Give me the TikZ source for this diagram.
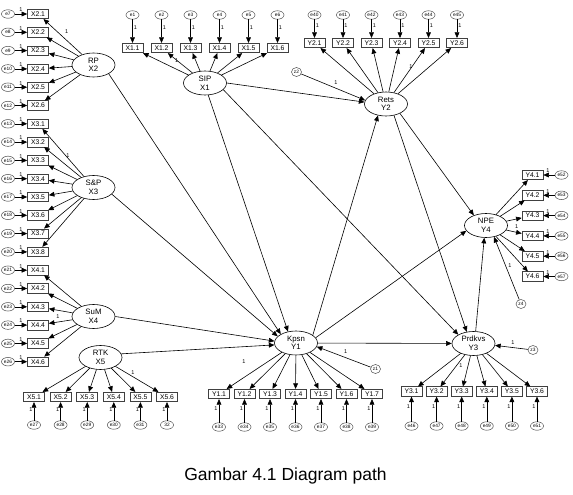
\documentclass[tikz,border=0pt]{standalone}
\usepackage{fontspec}
\setmainfont{Liberation Sans}
\usetikzlibrary{shapes.geometric,arrows.meta}
\begin{document}
\begin{tikzpicture}[x=1pt,y=-1pt,
  obs/.style={draw=black!75,line width=0.6pt,rectangle,minimum width=21pt,minimum height=9.5pt,inner sep=0pt,font=\fontsize{6.8}{7}\selectfont},
  lat/.style={draw,ellipse,line width=0.6pt,minimum width=43pt,minimum height=24pt,inner sep=0pt,align=center,font=\fontsize{7.8}{8.6}\selectfont},
  err/.style={draw=black!70,ellipse,line width=0.5pt,minimum width=13pt,minimum height=8.5pt,inner sep=0pt,font=\fontsize{4.8}{5}\selectfont},
  dis/.style={err,minimum width=10pt,minimum height=9pt},
  one/.style={font=\fontsize{5.5}{5.5}\selectfont,inner sep=0pt},
  arr/.style={-{Triangle[length=5.6pt,width=4.8pt]},line width=0.6pt},
  captext/.style={font=\fontsize{17.5}{20}\selectfont,inner sep=0pt}
]
\useasboundingbox (0,0) rectangle (573,495);

% latent variables
\node[lat] (RP) at (93.5,65) {RP\\X2};
\node[lat] (SP) at (93.5,187.5) {S\&P\\X3};
\node[lat] (SuM) at (93.5,316.5) {SuM\\X4};
\node[lat] (RTK) at (100.5,357.5) {RTK\\X5};
\node[lat] (SIP) at (205,83) {SIP\\X1};
\node[lat] (Rets) at (386,104) {Rets\\Y2};
\node[lat] (NPE) at (486,225.5) {NPE\\Y4};
\node[lat] (Kpsn) at (296,343) {Kpsn\\Y1};
\node[lat] (Prdkvs) at (473.5,343.5) {Prdkvs\\Y3};

% disturbances
\node[dis] (z1) at (375.5,369) {z1};
\node[dis] (z2) at (296.5,72) {z2};
\node[dis] (z3) at (533,350) {z3};
\node[dis] (z4) at (521,304) {z4};

% X2 indicators
\foreach \k in {1,...,6}{
  \pgfmathsetmacro\yy{14+18.3*(\k-1)}
  \pgfmathtruncatemacro\ee{6+\k}
  \node[obs] (X2-\k) at (38,\yy) {X2.\k};
  \node[err] (e\ee) at (8,\yy) {e\ee};
  \draw[arr] (e\ee) -- (X2-\k);
  \node[one] at (21,\yy-4) {1};
  \draw[arr] (RP) -- (X2-\k);
}
% X3 indicators
\foreach \k in {1,...,8}{
  \pgfmathsetmacro\yy{14+18.3*(5+\k)}
  \pgfmathtruncatemacro\ee{12+\k}
  \node[obs] (X3-\k) at (38,\yy) {X3.\k};
  \node[err] (e\ee) at (8,\yy) {e\ee};
  \draw[arr] (e\ee) -- (X3-\k);
  \node[one] at (21,\yy-4) {1};
  \draw[arr] (SP) -- (X3-\k);
}
% X4 indicators
\foreach \k in {1,...,6}{
  \pgfmathsetmacro\yy{14+18.3*(13+\k)}
  \pgfmathtruncatemacro\ee{20+\k}
  \node[obs] (X4-\k) at (38,\yy) {X4.\k};
  \node[err] (e\ee) at (8,\yy) {e\ee};
  \draw[arr] (e\ee) -- (X4-\k);
  \node[one] at (21,\yy-4) {1};
  \draw[arr] (SuM) -- (X4-\k);
}
% X1 indicators
\foreach \k in {1,...,6}{
  \pgfmathsetmacro\xx{132.5+29*(\k-1)}
  \node[obs] (X1-\k) at (\xx,48) {X1.\k};
  \node[err] (e\k) at (\xx,15) {e\k};
  \draw[arr] (e\k) -- (X1-\k);
  \node[one] at (\xx+3,28) {1};
  \draw[arr] (SIP) -- (X1-\k);
}
% Y2 indicators
\foreach \k in {1,...,6}{
  \pgfmathsetmacro\xx{314.5+28.5*(\k-1)}
  \pgfmathtruncatemacro\ee{39+\k}
  \node[obs] (Y2-\k) at (\xx,43) {Y2.\k};
  \node[err] (e\ee) at (\xx,15) {e\ee};
  \draw[arr] (e\ee) -- (Y2-\k);
  \node[one] at (\xx+3,26) {1};
  \draw[arr] (Rets) -- (Y2-\k);
}
% Y4 indicators
\foreach \k in {1,...,6}{
  \pgfmathsetmacro\yy{175+20.3*(\k-1)}
  \pgfmathtruncatemacro\ee{51+\k}
  \node[obs] (Y4-\k) at (532.5,\yy) {Y4.\k};
  \node[err] (e\ee) at (561.5,\yy) {e\ee};
  \draw[arr] (e\ee) -- (Y4-\k);
  \node[one] at (548,\yy-4) {1};
  \draw[arr] (NPE) -- (Y4-\k);
}
% X5 indicators
\foreach \k/\el in {1/e27,2/e28,3/e29,4/e30,5/e31,6/32}{
  \pgfmathsetmacro\xx{34+26.6*(\k-1)}
  \node[obs] (X5-\k) at (\xx,397) {X5.\k};
  \node[err] (eX5-\k) at (\xx,425) {\el};
  \draw[arr] (eX5-\k) -- (X5-\k);
  \node[one] at (\xx-3,410) {1};
  \draw[arr] (RTK) -- (X5-\k);
}
% Y1 indicators
\foreach \k in {1,...,7}{
  \pgfmathsetmacro\xx{219+25.5*(\k-1)}
  \pgfmathtruncatemacro\ee{32+\k}
  \node[obs] (Y1-\k) at (\xx,394) {Y1.\k};
  \node[err] (e\ee) at (\xx,427) {e\ee};
  \draw[arr] (e\ee) -- (Y1-\k);
  \node[one] at (\xx-3,409) {1};
  \draw[arr] (Kpsn) -- (Y1-\k);
}
% Y3 indicators
\foreach \k in {1,...,6}{
  \pgfmathsetmacro\xx{411.5+25.1*(\k-1)}
  \pgfmathtruncatemacro\ee{45+\k}
  \node[obs] (Y3-\k) at (\xx,391.5) {Y3.\k};
  \node[err] (e\ee) at (\xx,426) {e\ee};
  \draw[arr] (e\ee) -- (Y3-\k);
  \node[one] at (\xx-3,407) {1};
  \draw[arr] (Prdkvs) -- (Y3-\k);
}

% loading fixed labels
\node[one] at (66.7,31.7) {1};
\node[one] at (68,156) {1};
\node[one] at (58,316.7) {1};
\node[one] at (133,373) {1};
\node[one] at (176.7,60.7) {1};
\node[one] at (411,66.7) {1};
\node[one] at (244,362) {1};
\node[one] at (461,366) {1};
\node[one] at (516.7,227) {1};

% structural paths
\draw[arr] (RP.330) -- (Kpsn.150);
\draw[arr] (SP.340) -- (Kpsn.160);
\draw[arr] (SuM.east) -- (Kpsn.175);
\draw[arr] (RTK.10) -- (Kpsn.185);
\draw[arr] (SIP.285) -- (Kpsn.125);
\draw[arr] (SIP.340) -- (Prdkvs.150);
\draw[arr] (SIP.east) -- (Rets.175);
\draw[arr] (Kpsn.25) -- (Rets.235);
\draw[arr] (Kpsn.15) -- (NPE.195);
\draw[arr] (Kpsn) -- (Prdkvs);
\draw[arr] (Rets.326) -- (NPE.140);
\draw[arr] (Rets.305) -- (Prdkvs.120);
\draw[arr] (Prdkvs.80) -- (NPE.262);

% disturbance paths
\draw[arr] (z1) -- (Kpsn.350);
\draw[arr] (z2) -- (Rets.170);
\draw[arr] (z3) -- (Prdkvs.355);
\draw[arr] (z4) -- (NPE.305);
\node[one] at (345.7,351.7) {1};
\node[one] at (336,83) {1};
\node[one] at (513,342.7) {1};
\node[one] at (510,265.7) {1};

\node[captext] (caption) at (285.5,475.5) {Gambar 4.1 Diagram path};
\end{tikzpicture}
\end{document}
